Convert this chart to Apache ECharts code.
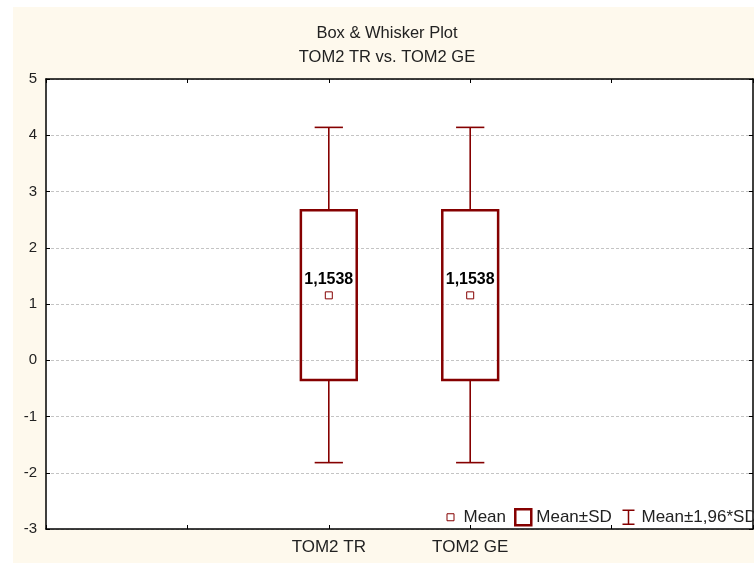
<!DOCTYPE html>
<html>
<head>
<meta charset="utf-8">
<script src="https://cdn.jsdelivr.net/npm/echarts@6/dist/echarts.min.js"></script>
<style>
  html, body { margin: 0; padding: 0; background: #ffffff; }
  #wrap { position: relative; width: 754px; height: 563px; background: #ffffff; overflow: hidden; }
  #chart { position: absolute; left: 13px; top: 7px; width: 861px; height: 556px; }
</style>
</head>
<body>
<div id="wrap"><div id="chart"></div></div>
<script>
// ---- data ----
const axisCategories = ['', '', 'TOM2 TR', 'TOM2 GE', '', ''];
const groups = ['TOM2 TR', 'TOM2 GE'];
const means = [1.1538, 1.1538];
const sdLow = [-0.35, -0.35];
const sdHigh = [2.665, 2.665];
const ciLow = [-1.82, -1.82];
const ciHigh = [4.14, 4.14];
const yTicks = [-3, -2, -1, 0, 1, 2, 3, 4, 5];
const titleLines = ['Box & Whisker Plot', 'TOM2 TR vs. TOM2 GE'];
const legendNames = ['Mean', 'Mean±SD', 'Mean±1,96*SD'];

const DARK_RED = '#850000';
const FONT = '"Liberation Sans", Arial, sans-serif';
// the canvas is 120px wider than the visible frame so the legend can run past the right edge (clipped like the reference)
const EXTRA = 120;

const chart = echarts.init(document.getElementById('chart'), null, { renderer: 'canvas' });

const boxData = groups.map((g, i) => [g, sdLow[i], sdHigh[i]]);
const whiskerData = groups.map((g, i) => [g, ciLow[i], sdLow[i], sdHigh[i], ciHigh[i]]);
const meanData = groups.map((g, i) => [g, means[i]]);

const option = {
  backgroundColor: '#FEF9ED',
  animation: false,
  textStyle: { fontFamily: FONT },
  title: {
    text: titleLines.join('\n'),
    left: 369,
    top: 9,
    textAlign: 'center',
    textStyle: { fontSize: 16.5, fontWeight: 'normal', color: '#222', lineHeight: 24, fontFamily: FONT }
  },
  legend: {
    left: 424,
    top: 496,
    orient: 'horizontal',
    itemWidth: 16,
    itemHeight: 16,
    itemGap: 8,
    selectedMode: false,
    textStyle: { fontSize: 17, color: '#222', fontFamily: FONT },
    data: [
      { name: legendNames[0], icon: 'path://M0,0M16,16M4.5,4.5h7v7h-7z',
        itemStyle: { color: '#fff', borderColor: DARK_RED, borderWidth: 1 } },
      { name: legendNames[1], icon: 'path://M1,1h14v14h-14z',
        itemStyle: { color: '#fff', borderColor: DARK_RED, borderWidth: 2.5 } },
      { name: legendNames[2], icon: 'path://M0,0M16,16M2,1h12M8,1v14M2,15h12',
        itemStyle: { color: 'rgba(0,0,0,0)', borderColor: DARK_RED, borderWidth: 1.5 } }
    ]
  },
  grid: {
    left: 33, right: 1 + EXTRA, top: 72, bottom: 34,
    show: true, backgroundColor: '#ffffff', borderWidth: 0
  },
  xAxis: [
    {
      type: 'category', data: axisCategories, boundaryGap: false, position: 'bottom',
      axisLine: { onZero: false, lineStyle: { color: '#000', width: 1.5 } },
      axisTick: { inside: true, length: 4, interval: 0, lineStyle: { color: '#000' } },
      axisLabel: { interval: 0, fontSize: 17, color: '#222', margin: 10, fontFamily: FONT },
      splitLine: { show: false }
    },
    {
      type: 'category', data: axisCategories, boundaryGap: false, position: 'top',
      axisLine: { onZero: false, lineStyle: { color: '#000', width: 1.5 } },
      axisTick: { inside: true, length: 4, interval: 0, lineStyle: { color: '#000' } },
      axisLabel: { show: false },
      splitLine: { show: false }
    }
  ],
  yAxis: [
    {
      type: 'value', min: yTicks[0], max: yTicks[yTicks.length - 1], interval: 1, position: 'left',
      axisLine: { show: true, onZero: false, lineStyle: { color: '#000', width: 1.5 } },
      axisTick: { show: true, inside: true, length: 4, lineStyle: { color: '#000' } },
      axisLabel: { fontSize: 15, color: '#222', margin: 9, fontFamily: FONT },
      splitLine: { show: true, lineStyle: { color: '#c4c4c4', type: [3, 2], width: 1 } }
    },
    {
      type: 'value', min: yTicks[0], max: yTicks[yTicks.length - 1], interval: 1, position: 'right',
      axisLine: { show: true, onZero: false, lineStyle: { color: '#000', width: 1.5 } },
      axisTick: { show: true, inside: true, length: 4, lineStyle: { color: '#000' } },
      axisLabel: { show: false },
      splitLine: { show: false }
    }
  ],
  series: [
    {
      name: legendNames[2],
      type: 'custom',
      xAxisIndex: 0, yAxisIndex: 0,
      z: 3,
      data: whiskerData,
      renderItem: function (params, api) {
        const x = api.value(0);
        const pLo = api.coord([x, api.value(1)]);
        const pSdLo = api.coord([x, api.value(2)]);
        const pSdHi = api.coord([x, api.value(3)]);
        const pHi = api.coord([x, api.value(4)]);
        const band = api.size([1, 0])[0];
        const cap = band * 0.2;
        const st = { stroke: DARK_RED, lineWidth: 1.6, fill: null };
        return {
          type: 'group',
          children: [
            { type: 'line', shape: { x1: pLo[0], y1: pLo[1], x2: pSdLo[0], y2: pSdLo[1] }, style: st },
            { type: 'line', shape: { x1: pHi[0], y1: pHi[1], x2: pSdHi[0], y2: pSdHi[1] }, style: st },
            { type: 'line', shape: { x1: pLo[0] - cap / 2, y1: pLo[1], x2: pLo[0] + cap / 2, y2: pLo[1] }, style: st },
            { type: 'line', shape: { x1: pHi[0] - cap / 2, y1: pHi[1], x2: pHi[0] + cap / 2, y2: pHi[1] }, style: st }
          ]
        };
      }
    },
    {
      name: legendNames[1],
      type: 'custom',
      xAxisIndex: 0, yAxisIndex: 0,
      z: 4,
      data: boxData,
      renderItem: function (params, api) {
        const x = api.value(0);
        const pLo = api.coord([x, api.value(1)]);
        const pHi = api.coord([x, api.value(2)]);
        const w = api.size([1, 0])[0] * 0.395;
        return {
          type: 'rect',
          shape: { x: pLo[0] - w / 2, y: pHi[1], width: w, height: pLo[1] - pHi[1] },
          style: { fill: null, stroke: DARK_RED, lineWidth: 2.5 }
        };
      }
    },
    {
      name: legendNames[0],
      type: 'scatter',
      xAxisIndex: 0, yAxisIndex: 0,
      z: 5,
      symbol: 'rect',
      symbolSize: 7,
      itemStyle: { color: '#ffffff', borderColor: DARK_RED, borderWidth: 1, opacity: 1 },
      label: {
        show: true,
        position: 'top',
        distance: 4,
        fontSize: 16,
        fontWeight: 'bold',
        color: '#000',
        fontFamily: FONT,
        formatter: function (p) { return p.value[1].toFixed(4).replace('.', ','); }
      },
      data: meanData
    }
  ]
};

chart.setOption(option);
</script>
</body>
</html>
